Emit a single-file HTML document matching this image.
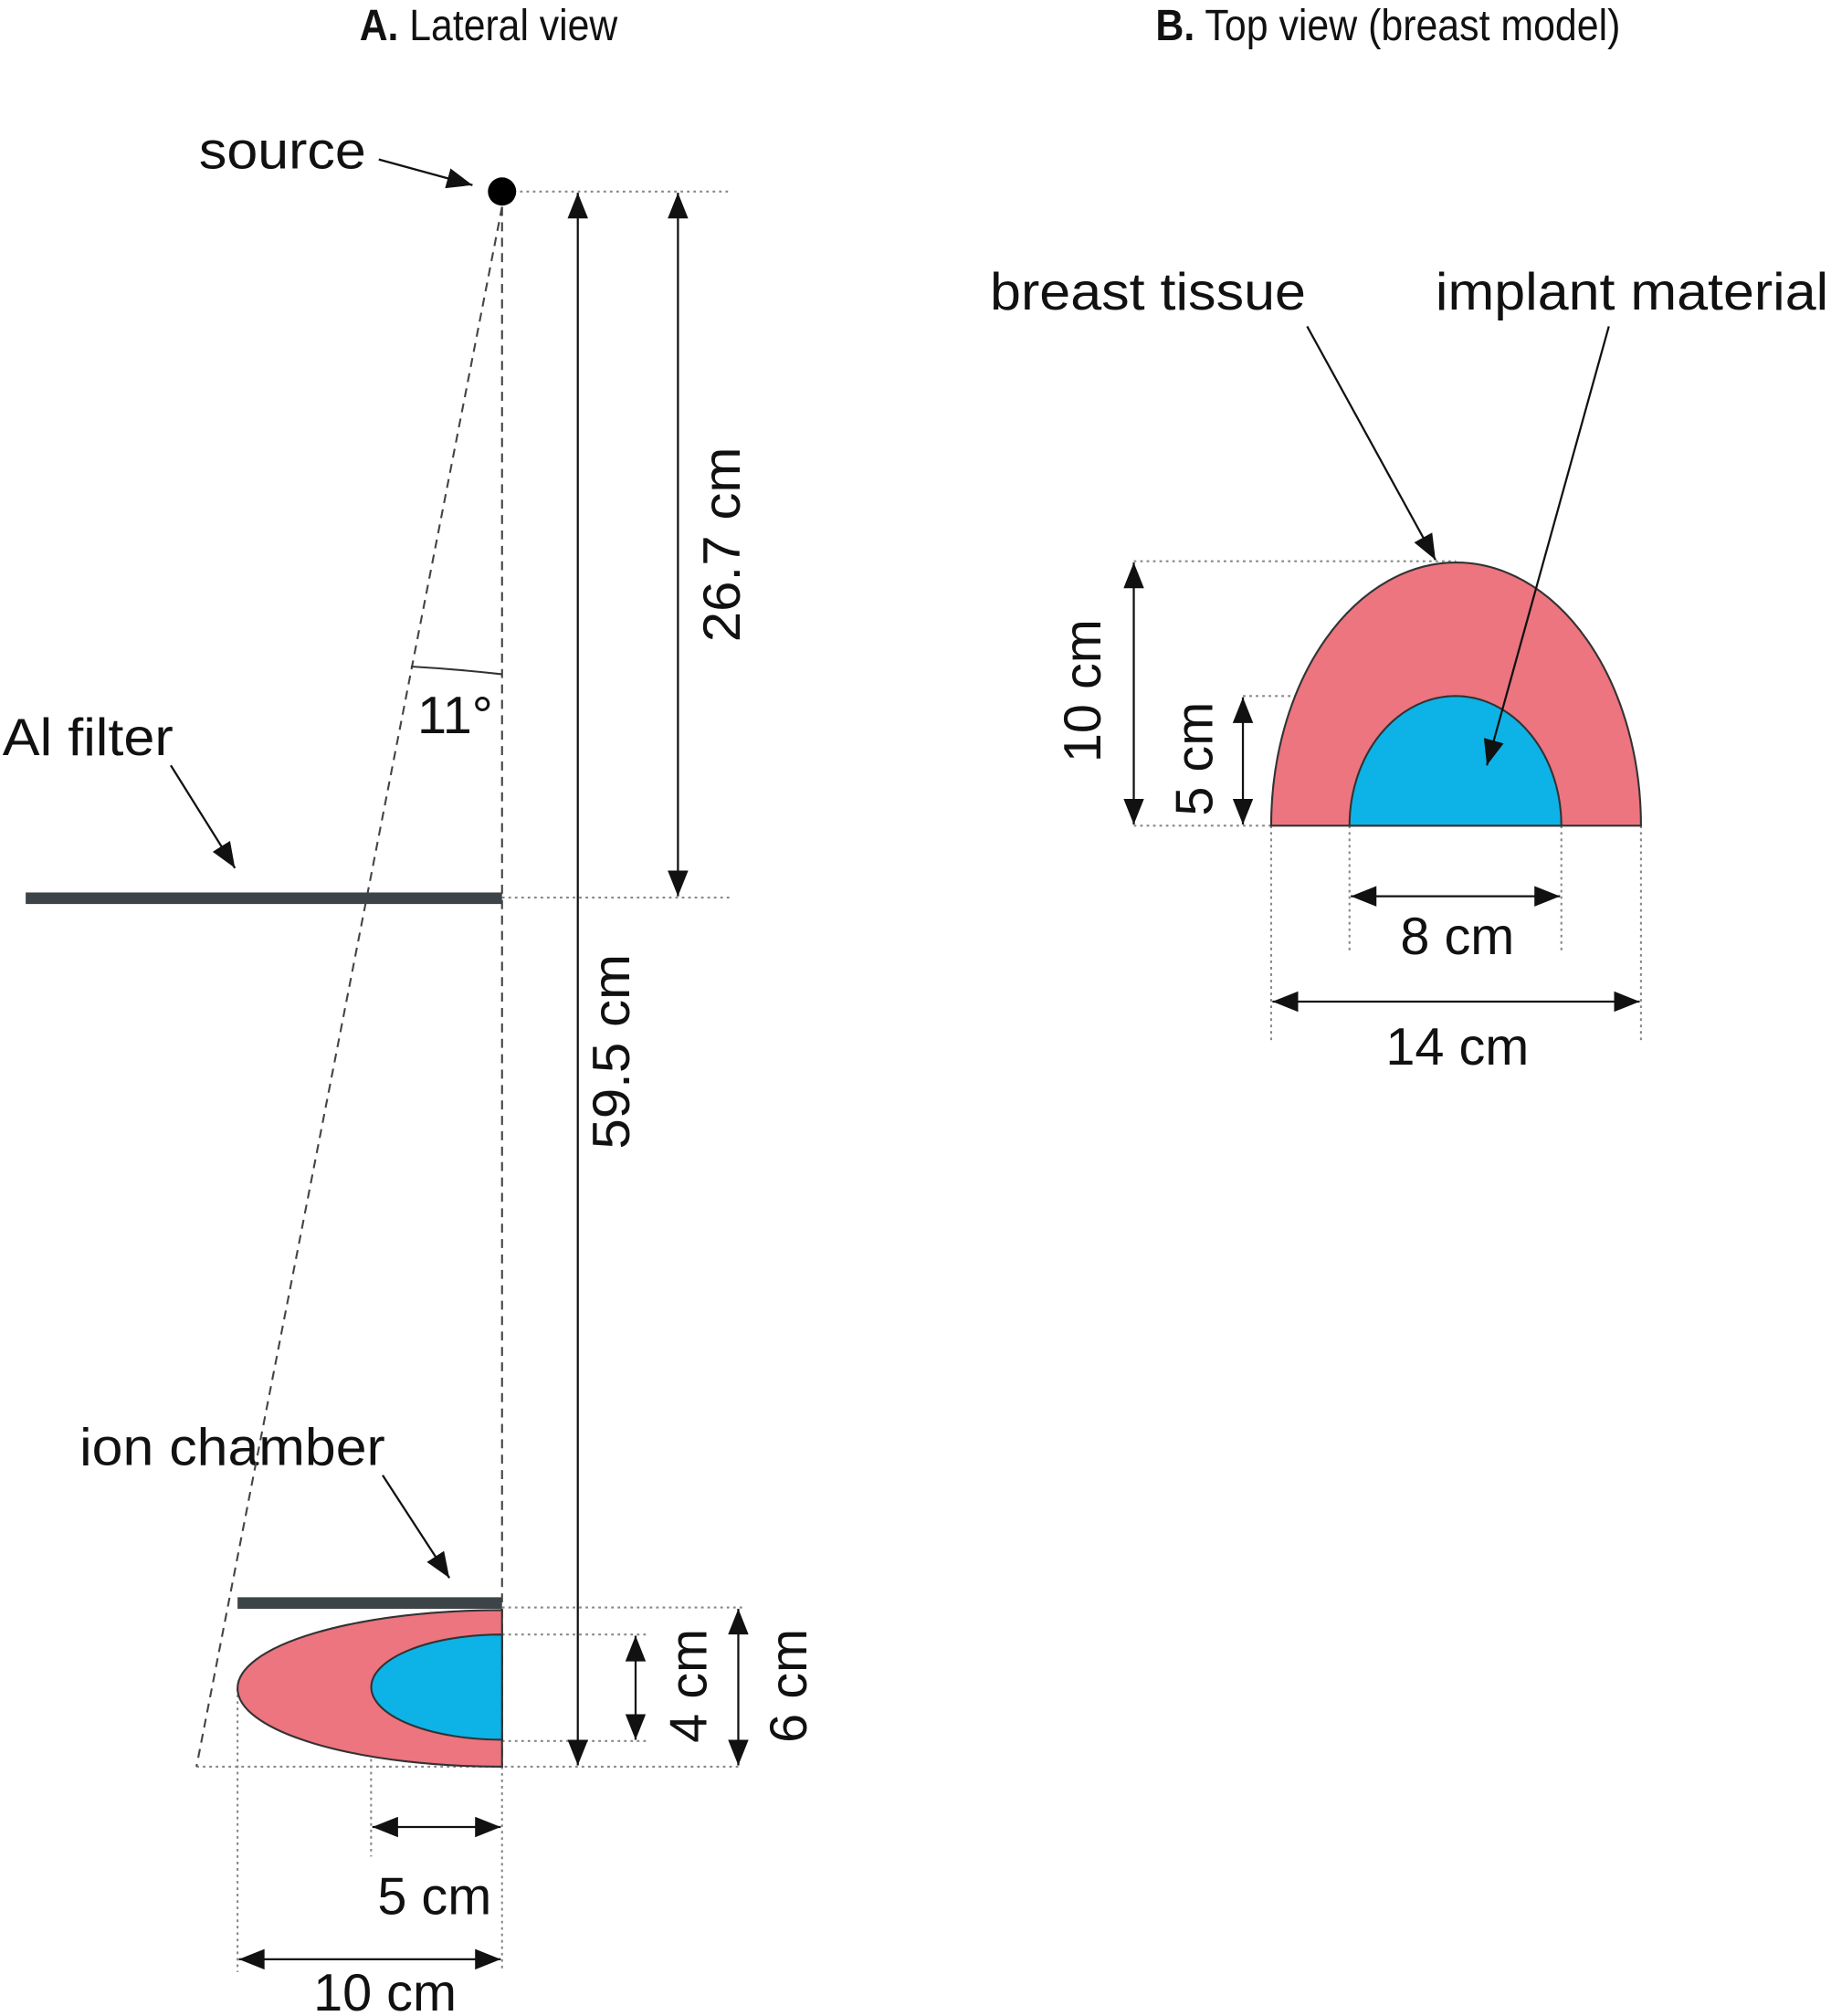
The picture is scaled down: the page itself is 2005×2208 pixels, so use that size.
<!DOCTYPE html>
<html><head><meta charset="utf-8"><style>
html,body{margin:0;padding:0;background:#fff;}
svg{display:block;}
text{font-family:"Liberation Sans",Arial,sans-serif;fill:#111;}
</style></head><body>
<svg width="2005" height="2208" viewBox="0 0 1426 1568" xmlns="http://www.w3.org/2000/svg">
<defs>
<marker id="a" markerUnits="userSpaceOnUse" markerWidth="22" markerHeight="16" refX="20" refY="8" orient="auto"><path d="M0,0 L20,8 L0,16 z" fill="#111"/></marker>
<marker id="s" markerUnits="userSpaceOnUse" markerWidth="22" markerHeight="16" refX="0" refY="8" orient="auto"><path d="M20,0 L0,8 L20,16 z" fill="#111"/></marker>
</defs>
<g font-size="34">
<text x="280" y="30" textLength="201" lengthAdjust="spacingAndGlyphs"><tspan font-weight="bold">A.</tspan> Lateral view</text>
<text x="900" y="30" textLength="362" lengthAdjust="spacingAndGlyphs"><tspan font-weight="bold">B.</tspan> Top view (breast model)</text>
</g>
<g font-size="41">
<text x="155" y="130" textLength="130" lengthAdjust="spacingAndGlyphs">source</text>
<text x="2" y="587" textLength="133" lengthAdjust="spacingAndGlyphs">Al filter</text>
<text x="325" y="570">11°</text>
<text x="62" y="1140" textLength="238" lengthAdjust="spacingAndGlyphs">ion chamber</text>
<text x="294" y="1490">5 cm</text>
<text x="244" y="1565">10 cm</text>
<text transform="translate(576,423) rotate(-90)" text-anchor="middle" textLength="152" lengthAdjust="spacingAndGlyphs">26.7 cm</text>
<text transform="translate(490,818) rotate(-90)" text-anchor="middle" textLength="152" lengthAdjust="spacingAndGlyphs">59.5 cm</text>
<text transform="translate(550,1312) rotate(-90)" text-anchor="middle">4 cm</text>
<text transform="translate(628,1312) rotate(-90)" text-anchor="middle">6 cm</text>
<text x="771" y="240" textLength="246" lengthAdjust="spacingAndGlyphs">breast tissue</text>
<text x="1118" y="240" textLength="306" lengthAdjust="spacingAndGlyphs">implant material</text>
<text transform="translate(857,537) rotate(-90)" text-anchor="middle">10 cm</text>
<text transform="translate(944,590) rotate(-90)" text-anchor="middle">5 cm</text>
<text x="1135" y="742" text-anchor="middle">8 cm</text>
<text x="1135" y="828" text-anchor="middle">14 cm</text>
</g>
<g stroke="#888" stroke-width="1.5" stroke-dasharray="2,3" fill="none">
<line x1="400" y1="148" x2="570" y2="148"/>
<line x1="391" y1="698" x2="570" y2="698"/>
<line x1="391" y1="1251" x2="578" y2="1251"/>
<line x1="391" y1="1272" x2="505" y2="1272"/>
<line x1="391" y1="1355" x2="505" y2="1355"/>
<line x1="153" y1="1375" x2="578" y2="1375"/>
<line x1="185" y1="1314" x2="185" y2="1535"/>
<line x1="289" y1="1314" x2="289" y2="1445"/>
<line x1="391" y1="1375" x2="391" y2="1535"/>
<line x1="883" y1="436" x2="1134" y2="436"/>
<line x1="968" y1="541" x2="1134" y2="541"/>
<line x1="883" y1="642" x2="990" y2="642"/>
<line x1="990" y1="642" x2="990" y2="810"/>
<line x1="1278" y1="642" x2="1278" y2="810"/>
<line x1="1051" y1="642" x2="1051" y2="740"/>
<line x1="1216" y1="642" x2="1216" y2="740"/>
</g>
<g stroke="#444" stroke-width="1.5" stroke-dasharray="7,5" fill="none">
<line x1="391" y1="160" x2="153" y2="1375"/>
<line x1="391" y1="160" x2="391" y2="1375"/>
</g>
<path d="M320,518 Q355,520 391,524" stroke="#333" stroke-width="1.5" fill="none"/>
<circle cx="391" cy="148" r="11" fill="#000"/>
<rect x="20" y="694" width="371" height="9" fill="#3d4447"/>
<rect x="185" y="1243" width="206" height="9" fill="#3d4447"/>
<path d="M391,1253 A206,61 0 0 0 391,1375 Z" fill="#ec7580" stroke="#333" stroke-width="1.5"/>
<path d="M391,1272 A102,41 0 0 0 391,1354 Z" fill="#0db3e6" stroke="#333" stroke-width="1.5"/>
<path d="M990,642 A144,205 0 0 1 1278,642 Z" fill="#ec7580" stroke="#333" stroke-width="1.5"/>
<path d="M1051,642 A82.5,101 0 0 1 1216,642 Z" fill="#0db3e6" stroke="#333" stroke-width="1.5"/>
<g stroke="#111" stroke-width="1.6" fill="none">
<line x1="295" y1="123" x2="368" y2="143" marker-end="url(#a)"/>
<line x1="133" y1="595" x2="183" y2="675" marker-end="url(#a)"/>
<line x1="298" y1="1148" x2="350" y2="1228" marker-end="url(#a)"/>
<line x1="1018" y1="253" x2="1118" y2="435" marker-end="url(#a)"/>
<line x1="1253" y1="253" x2="1158" y2="595" marker-end="url(#a)"/>
<line x1="528" y1="149" x2="528" y2="697" marker-start="url(#s)" marker-end="url(#a)"/>
<line x1="450" y1="149" x2="450" y2="1374" marker-start="url(#s)" marker-end="url(#a)"/>
<line x1="495" y1="1273" x2="495" y2="1354" marker-start="url(#s)" marker-end="url(#a)"/>
<line x1="575" y1="1252" x2="575" y2="1374" marker-start="url(#s)" marker-end="url(#a)"/>
<line x1="290" y1="1422" x2="390" y2="1422" marker-start="url(#s)" marker-end="url(#a)"/>
<line x1="186" y1="1525" x2="390" y2="1525" marker-start="url(#s)" marker-end="url(#a)"/>
<line x1="883" y1="437" x2="883" y2="641" marker-start="url(#s)" marker-end="url(#a)"/>
<line x1="968" y1="542" x2="968" y2="641" marker-start="url(#s)" marker-end="url(#a)"/>
<line x1="1052" y1="697" x2="1215" y2="697" marker-start="url(#s)" marker-end="url(#a)"/>
<line x1="991" y1="779" x2="1277" y2="779" marker-start="url(#s)" marker-end="url(#a)"/>
</g>
</svg>
</body></html>
